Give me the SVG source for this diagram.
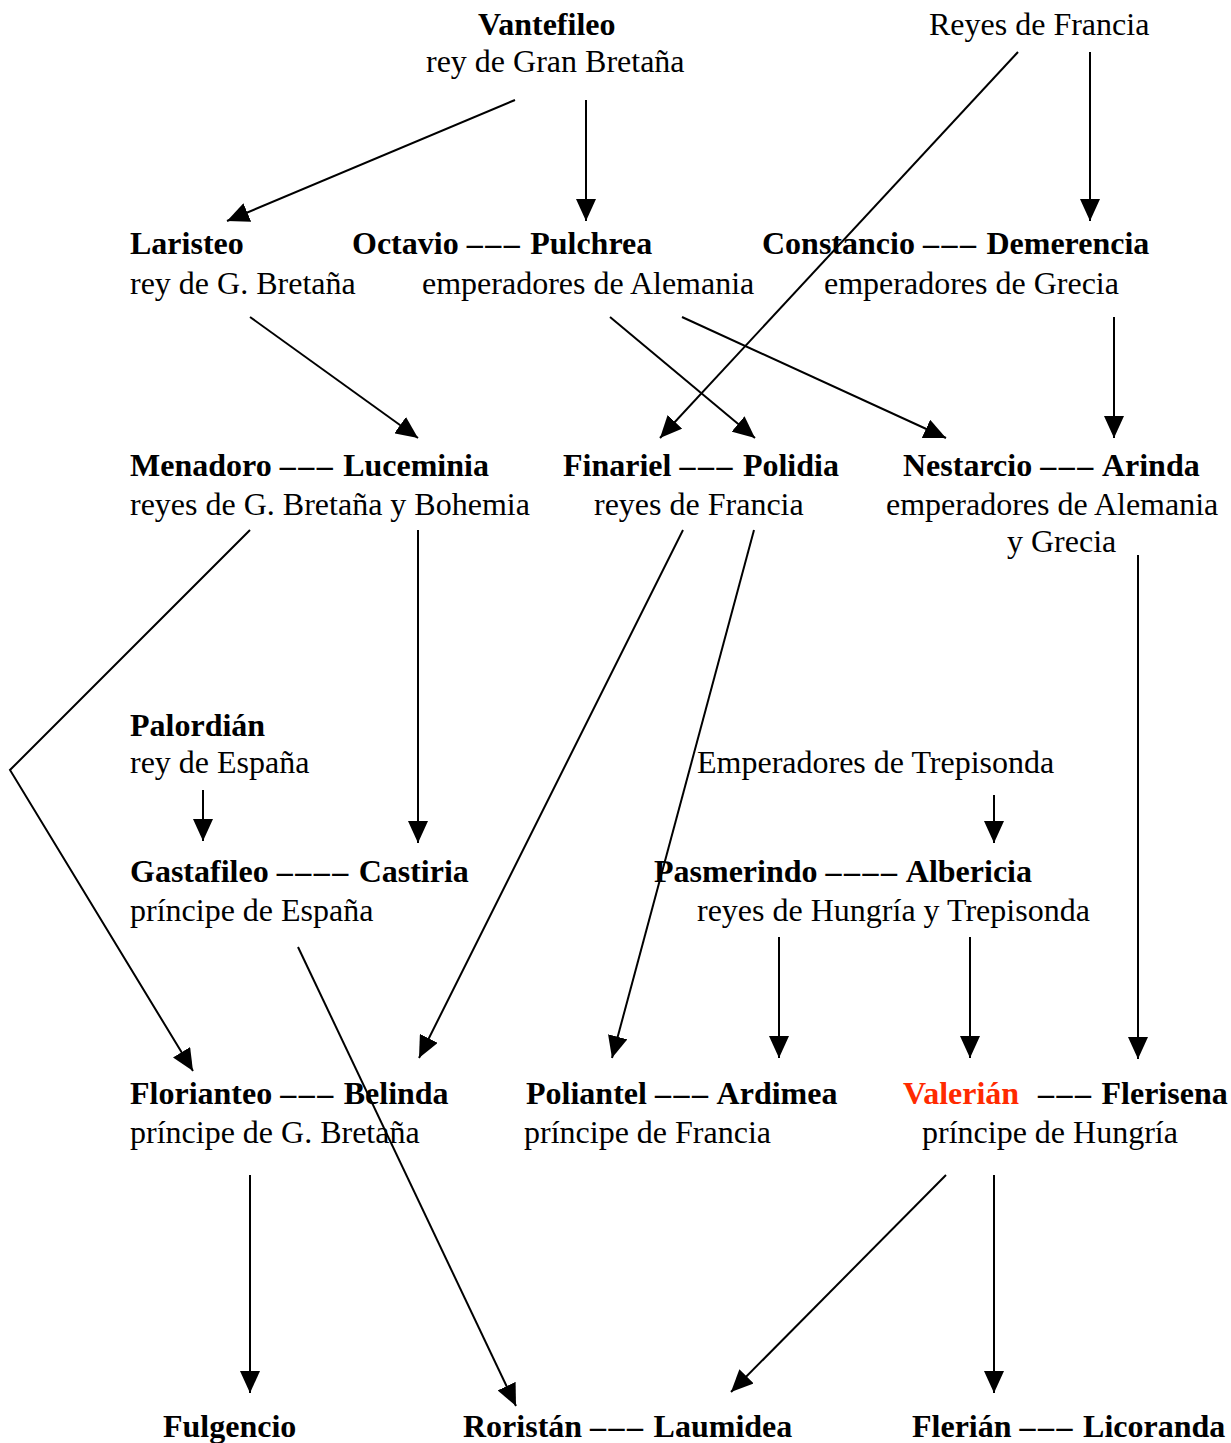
<svg xmlns="http://www.w3.org/2000/svg" width="1231" height="1443" viewBox="0 0 1231 1443">
<style>
text{font-family:"Liberation Serif","Times New Roman",serif;font-size:32px;fill:#000}
.b{font-weight:bold}
.d{letter-spacing:2.5px}
.red{fill:#FF2A00}
.c line,.c polyline{stroke:#000;stroke-width:2;fill:none;marker-end:url(#ah)}
</style>
<defs>
<marker id="ah" markerUnits="userSpaceOnUse" markerWidth="22" markerHeight="20" refX="22" refY="10" orient="auto" viewBox="0 0 22 20">
<path d="M0,0 L22,10 L0,20 z" fill="#000"/>
</marker>
</defs>
<rect width="1231" height="1443" fill="#fff"/>
<g id="vantefileo"><text x="478" y="35" class="b">Vantefileo</text><text x="426" y="72">rey de Gran Bretaña</text></g>
<g id="reyes-francia"><text x="929" y="35">Reyes de Francia</text></g>
<g id="laristeo"><text x="130" y="254" class="b">Laristeo</text><text x="130" y="294">rey de G. Bretaña</text></g>
<g id="octavio-pulchrea"><text x="352" y="254" class="b">Octavio <tspan class="d">–––</tspan> Pulchrea</text><text x="422" y="294">emperadores de Alemania</text></g>
<g id="constancio-demerencia"><text x="762" y="254" class="b">Constancio <tspan class="d">–––</tspan> Demerencia</text><text x="824" y="294">emperadores de Grecia</text></g>
<g id="menadoro-luceminia"><text x="130" y="476" class="b">Menadoro <tspan class="d">–––</tspan> Luceminia</text><text x="130" y="515">reyes de G. Bretaña y Bohemia</text></g>
<g id="finariel-polidia"><text x="563" y="476" class="b">Finariel <tspan class="d">–––</tspan> Polidia</text><text x="594" y="515">reyes de Francia</text></g>
<g id="nestarcio-arinda"><text x="903" y="476" class="b">Nestarcio <tspan class="d">–––</tspan> Arinda</text><text x="886" y="515">emperadores de Alemania</text><text x="1007" y="552">y Grecia</text></g>
<g id="palordian"><text x="130" y="736" class="b">Palordián</text><text x="130" y="773">rey de España</text></g>
<g id="emperadores-trepisonda"><text x="697" y="773">Emperadores de Trepisonda</text></g>
<g id="gastafileo-castiria"><text x="130" y="882" class="b">Gastafileo <tspan class="d">––––</tspan> Castiria</text><text x="130" y="921">príncipe de España</text></g>
<g id="pasmerindo-albericia"><text x="654" y="882" class="b">Pasmerindo <tspan class="d">––––</tspan> Albericia</text><text x="697" y="921">reyes de Hungría y Trepisonda</text></g>
<g id="florianteo-belinda"><text x="130" y="1104" class="b">Florianteo <tspan class="d">–––</tspan> Belinda</text><text x="130" y="1143">príncipe de G. Bretaña</text></g>
<g id="poliantel-ardimea"><text x="526" y="1104" class="b">Poliantel <tspan class="d">–––</tspan> Ardimea</text><text x="524" y="1143">príncipe de Francia</text></g>
<g id="valerian-flerisena"><text x="903" y="1104" class="b"><tspan class="red">Valerián</tspan><tspan x="1038" class="d">–––</tspan> Flerisena</text><text x="922" y="1143">príncipe de Hungría</text></g>
<g id="fulgencio"><text x="163" y="1437" class="b">Fulgencio</text></g>
<g id="roristan-laumidea"><text x="463" y="1437" class="b">Roristán <tspan class="d">–––</tspan> Laumidea</text></g>
<g id="flerian-licoranda"><text x="912" y="1437" class="b">Flerián <tspan class="d">–––</tspan> Licoranda</text></g>
<g id="connectors" class="c">
<line x1="515" y1="100" x2="227" y2="221"/>
<line x1="586" y1="100" x2="586" y2="221"/>
<line x1="1018" y1="52" x2="660" y2="438"/>
<line x1="1090" y1="52" x2="1090" y2="221"/>
<line x1="250" y1="317" x2="418" y2="438"/>
<line x1="610" y1="317" x2="755" y2="438"/>
<line x1="682" y1="317" x2="946" y2="438"/>
<line x1="1114" y1="317" x2="1114" y2="438"/>
<polyline points="250,530 10,770 193,1071"/>
<line x1="418" y1="530" x2="418" y2="843"/>
<line x1="683" y1="530" x2="419" y2="1058"/>
<line x1="754" y1="530" x2="612" y2="1058"/>
<line x1="1138" y1="555" x2="1138" y2="1059"/>
<line x1="203" y1="790" x2="203" y2="841"/>
<line x1="994" y1="795" x2="994" y2="843"/>
<line x1="298" y1="947" x2="516" y2="1406"/>
<line x1="779" y1="937" x2="779" y2="1058"/>
<line x1="970" y1="937" x2="970" y2="1058"/>
<line x1="250" y1="1175" x2="250" y2="1393"/>
<line x1="946" y1="1175" x2="731" y2="1392"/>
<line x1="994" y1="1175" x2="994" y2="1393"/>
</g>
</svg>
